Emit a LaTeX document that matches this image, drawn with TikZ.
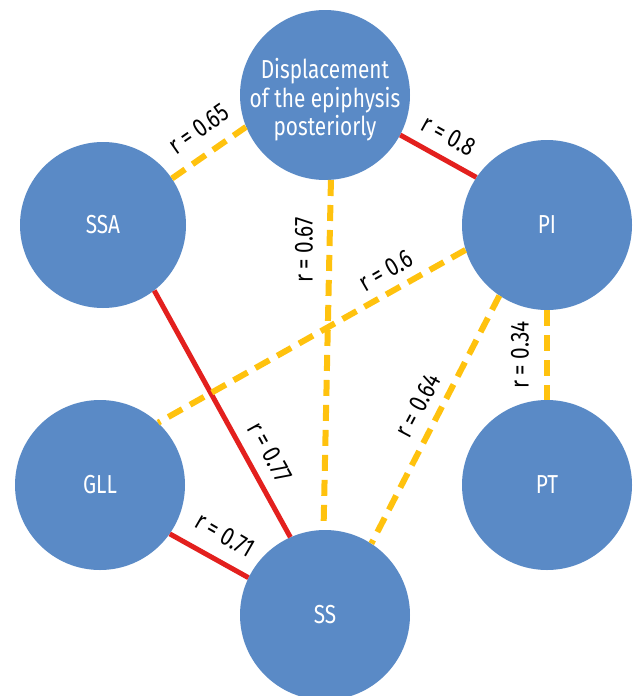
\documentclass[tikz,border=0pt]{standalone}
\usepackage{fontspec}
\setmainfont{Fira Sans}[FakeStretch=0.8]
\definecolor{cblue}{HTML}{5A8AC6}
\definecolor{cred}{HTML}{E3201E}
\definecolor{cyel}{HTML}{FFC20E}
\begin{document}
\begin{tikzpicture}[x=1pt,y=-1pt,
  circ/.style={circle,fill=cblue,draw=none,minimum size=170pt,inner sep=0pt,
    text=white,align=center,font=\fontsize{26}{28.5}\selectfont},
  ctext/.style={text=white,align=center,inner sep=0pt,font=\fontsize{26}{28.5}\selectfont},
  strong/.style={draw=cred,line width=5pt},
  weak/.style={draw=cyel,line width=6pt,dash pattern=on 16pt off 9pt},
  lbl/.style={text=black,font=\fontsize{26}{28}\selectfont,inner sep=0pt}]
\clip (0,0) rectangle (637,696);
\fill[white] (0,0) rectangle (637,696);
\node[circ] (top) at (325,95) {};
\node[ctext] (toptext) at (325,100) {Displacement\\of the epiphysis\\posteriorly};
\node[circ,minimum size=166pt] (ssa) at (103,225) {SSA};
\node[circ] (pi) at (547,225) {PI};
\node[circ] (gll) at (100,485) {GLL};
\node[circ] (pt) at (547,485) {PT};
\node[circ] (ss) at (325,615) {SS};

\draw[weak] (ssa.34.5) -- (top.202);
\draw[strong] (top.-28.5) -- (pi.146.7);
\draw[weak] (top.-86.7) -- (ss.91.3);
\draw[strong] (ssa.-52.6) -- (ss.114.3);
\draw[weak] (pi.197) -- (gll.47.4);
\draw[weak] (pi.-124.5) -- (ss.57.9);
\draw[weak] (pi.south) -- (pt.north);
\draw[strong] (gll.-35) -- (ss.154.3);

\node[lbl,rotate=35] (l1) at (199,129) {r = 0.65};
\node[lbl,rotate=-29] (l2) at (449,136) {r = 0.8};
\node[lbl,rotate=90] (l3) at (304,250) {r = 0.67};
\node[lbl,rotate=30] (l4) at (386,271) {r = 0.6};
\node[lbl,rotate=-61] (l5) at (270,452) {r = 0.77};
\node[lbl,rotate=62] (l6) at (418,406) {r = 0.64};
\node[lbl,rotate=90] (l7) at (520,355) {r = 0.34};
\node[lbl,rotate=-30] (l8) at (225,535) {r = 0.71};
\end{tikzpicture}
\end{document}
